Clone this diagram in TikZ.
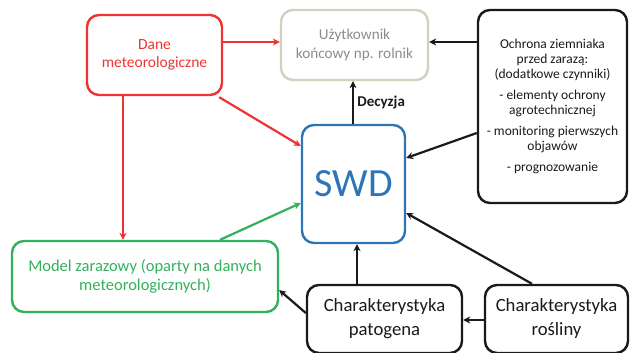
\documentclass[tikz,border=0pt]{standalone}
\usepackage{fontspec}
\setmainfont{Carlito}
\usetikzlibrary{arrows.meta}
\definecolor{cred}{HTML}{EE3433}
\definecolor{cgreen}{HTML}{33B05C}
\definecolor{cblue}{HTML}{2E75B6}
\definecolor{cgraybd}{HTML}{D3D0C2}
\definecolor{cgraytx}{HTML}{8C8C8C}
\definecolor{cdark}{HTML}{1A1A1A}
\begin{document}
\begin{tikzpicture}[x=1pt,y=-1pt,
  box/.style={draw, line width=2.4pt, rounded corners=12pt, align=center, inner sep=2pt},
  arr/.style={line width=2.2pt, -{Stealth[length=7pt,width=7pt]}},
  lne/.style={line width=2.2pt}]
\useasboundingbox (0,0) rectangle (630,353);
% nodes
\node[box, draw=cred, text=cred, minimum width=135pt, minimum height=80pt, font=\fontsize{15.5}{18.5}\selectfont] (dane) at (154.5,55) {Dane\\meteorologiczne};
\node[box, draw=cgraybd, text=cgraytx, minimum width=147pt, minimum height=70pt, font=\fontsize{15.2}{18.5}\selectfont] (user) at (354.5,45) {Użytkownik\\końcowy np. rolnik};
\node[box, draw=cdark, text=cdark, minimum width=149pt, minimum height=193pt, font=\fontsize{13.5}{15}\selectfont] (ochr) at (552.5,106.5) {Ochrona ziemniaka\\przed zarazą:\\(dodatkowe czynniki)\\[6pt]- elementy ochrony\\agrotechnicznej\\[6pt]- monitoring pierwszych\\objawów\\[6pt]- prognozowanie};
\node[box, draw=cblue, text=cblue, minimum width=103pt, minimum height=118pt, font=\fontsize{40}{44}\selectfont] (swd) at (353.5,184) {SWD};
\node[box, draw=cgreen, text=cgreen, minimum width=266pt, minimum height=71pt, font=\fontsize{16.5}{19}\selectfont] (model) at (145,276.5) {Model zarazowy (oparty na danych\\meteorologicznych)};
\node[box, draw=cdark, text=cdark, minimum width=155pt, minimum height=68pt, font=\fontsize{18.7}{24}\selectfont] (pat) at (384.5,319) {Charakterystyka\\patogena};
\node[box, draw=cdark, text=cdark, minimum width=143pt, minimum height=68pt, font=\fontsize{18.7}{24}\selectfont] (ros) at (556.5,319) {Charakterystyka\\rośliny};
% connectors
\draw[arr, cred] (dane.east |- 0,42) -- (user.west |- 0,42);
\draw[arr, cred] (dane.south east) ++(-4,1) coordinate (d1) -- (swd.west |- 0,146);
\draw[arr, cred] (dane.south -| 123,0) -- (model.north -| 123,0);
\draw[arr, cgreen] (model.north -| 220,0) -- (swd.west |- 0,203);
\draw[arr, cdark] (swd.north -| 353,0) -- node[right, font=\fontsize{15}{17}\selectfont\bfseries, text=cdark, xshift=0pt] {Decyzja} (user.south -| 353,0);
\draw[arr, cdark] (ochr.west |- 0,42) -- (user.east |- 0,42);
\draw[arr, cdark] (ochr.west |- 0,133) -- (swd.east |- 0,158);
\draw[arr, cdark] (pat.north -| 357,0) -- (swd.south -| 357,0);
\draw[arr, cdark] (ros.north -| 532,0) -- (swd.east |- 0,213);
\draw[arr, cdark] (ros.west |- 0,320) -- (pat.east |- 0,320);
\draw[arr, cdark] (pat.west |- 0,313) -- (model.east |- 0,290);
\end{tikzpicture}
\end{document}
